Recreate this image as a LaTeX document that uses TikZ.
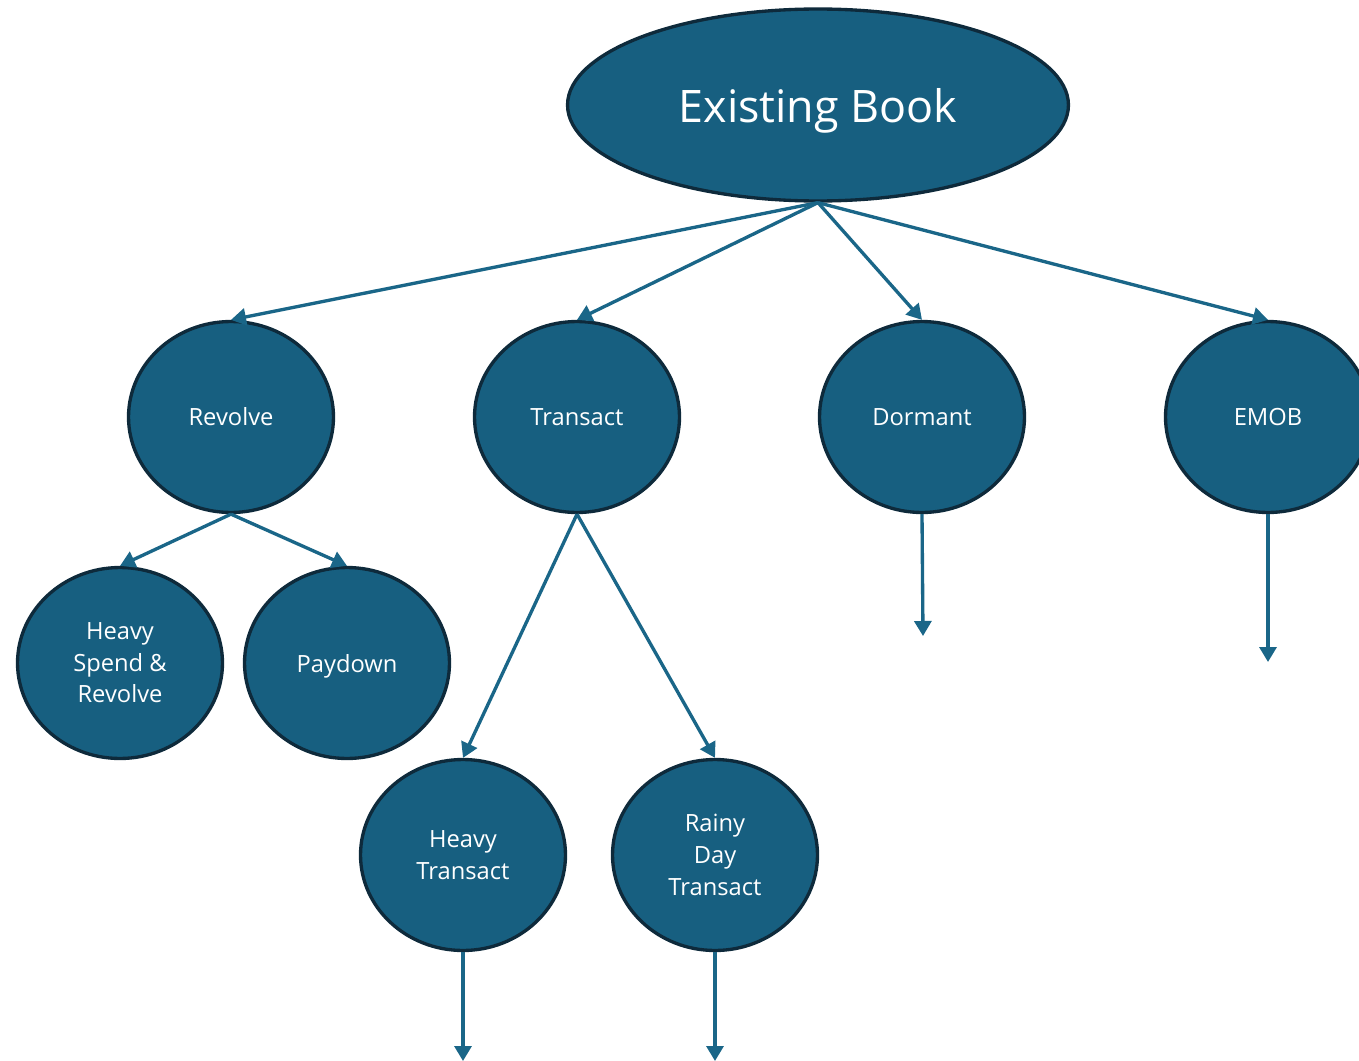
\documentclass[tikz,border=0pt]{standalone}
\usepackage{fontspec}
\setmainfont{Open Sans}
\usetikzlibrary{shapes.geometric,arrows.meta}
\definecolor{bookfill}{HTML}{175F80}
\definecolor{bookedge}{HTML}{0E2A3B}
\definecolor{bookarrow}{HTML}{1A6688}
\begin{document}
\begin{tikzpicture}[x=0.02cm,y=-0.02cm,join=round]
    \tikzstyle{seg} = [ellipse,fill=bookfill,draw=bookedge,line width=1.9pt,
                       text=white,font=\fontsize{13.5}{18}\selectfont,align=center,
                       minimum width=4.1cm,minimum height=3.82cm,inner sep=0pt]
    \tikzstyle{flow} = [draw=bookarrow,line width=1.9pt,
                        arrows={-Triangle[width=0.34cm,length=0.3cm]}]
    \useasboundingbox (0,0) rectangle (1359,1061);
    \node[seg,minimum width=10.02cm,minimum height=3.84cm,text depth=0pt,
          font=\fontsize{25.5}{30}\selectfont] (book) at (818,105) {Existing Book};
    \node[seg] (rev) at (231,417) {Revolve};
    \node[seg] (trn) at (577,417) {Transact};
    \node[seg] (dor) at (922,417) {Dormant};
    \node[seg] (emob) at (1268,417) {EMOB};
    \node[seg] (hsr) at (120,663) {Heavy\\Spend \&\\Revolve};
    \node[seg,text depth=0pt] (pay) at (347,663) {Paydown};
    \node[seg] (htr) at (463,855) {Heavy\\Transact};
    \node[seg] (rdt) at (715,855) {Rainy\\Day\\Transact};
    \coordinate (dorend) at (923,636);
    \coordinate (emobend) at (1268,662);
    \coordinate (htrend) at (463,1061);
    \coordinate (rdtend) at (715,1061);
    \draw[flow] (book.south) -- (rev.north);
    \draw[flow] (book.south) -- (trn.north);
    \draw[flow] (book.south) -- (dor.north);
    \draw[flow] (book.south) -- (emob.north);
    \draw[flow] (rev.south) -- (hsr.north);
    \draw[flow] (rev.south) -- (pay.north);
    \draw[flow] (trn.south) -- (htr.north);
    \draw[flow] (trn.south) -- (rdt.north);
    \draw[flow] (dor.south) -- (dorend);
    \draw[flow] (emob.south) -- (emobend);
    \draw[flow] (htr.south) -- (htrend);
    \draw[flow] (rdt.south) -- (rdtend);
\end{tikzpicture}
\end{document}
